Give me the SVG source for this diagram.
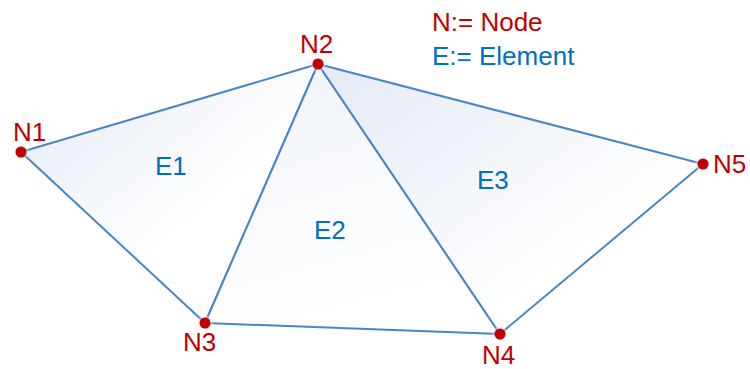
<svg xmlns="http://www.w3.org/2000/svg" width="750" height="369" viewBox="0 0 750 369">
<defs>
<linearGradient id="g1" x1="0" y1="0" x2="1" y2="1">
<stop offset="0" stop-color="#e3eaf5"/><stop offset="0.6" stop-color="#ffffff"/>
</linearGradient>
<linearGradient id="g2" x1="0" y1="0" x2="0.3" y2="1">
<stop offset="0" stop-color="#f0f4f9"/><stop offset="1" stop-color="#ffffff"/>
</linearGradient>
<linearGradient id="g3" x1="0" y1="0" x2="1" y2="1">
<stop offset="0" stop-color="#e3eaf5"/><stop offset="0.7" stop-color="#ffffff"/>
</linearGradient>
<radialGradient id="glow"><stop offset="0.5" stop-color="#bcd0ea" stop-opacity="0.7"/><stop offset="1" stop-color="#ffffff" stop-opacity="0"/></radialGradient>
</defs>
<style>
.edge{stroke:#4a86c5;stroke-width:2;stroke-linejoin:round}
.dot{fill:#c00000}
.nl{font-family:"Liberation Sans",Arial,sans-serif;font-size:26px;fill:#c00000}
.el{font-family:"Liberation Sans",Arial,sans-serif;font-size:26px;fill:#0070c0}
</style>
<g id="elements">
<g id="E1"><polygon class="edge" fill="url(#g1)" points="21,152 318,64 205,323"/><text class="el" x="155" y="175">E1</text></g>
<g id="E2"><polygon class="edge" fill="url(#g2)" points="318,64 205,323 500,334"/><text class="el" x="314" y="239">E2</text></g>
<g id="E3"><polygon class="edge" fill="url(#g3)" points="318,64 500,334 703,164"/><text class="el" x="477" y="189">E3</text></g>
</g>
<g id="connectors"/>
<g id="N1"><circle cx="21" cy="152" r="9" fill="url(#glow)"/><circle class="dot" cx="21" cy="152" r="5.5"/><text class="nl" x="13" y="141">N1</text></g>
<g id="N2"><circle cx="318" cy="64" r="9" fill="url(#glow)"/><circle class="dot" cx="318" cy="64" r="5.5"/><text class="nl" x="300" y="53">N2</text></g>
<g id="N3"><circle cx="205" cy="323" r="9" fill="url(#glow)"/><circle class="dot" cx="205" cy="323" r="5.5"/><text class="nl" x="183" y="351">N3</text></g>
<g id="N4"><circle cx="500" cy="334" r="9" fill="url(#glow)"/><circle class="dot" cx="500" cy="334" r="5.5"/><text class="nl" x="482" y="364">N4</text></g>
<g id="N5"><circle cx="703" cy="164" r="9" fill="url(#glow)"/><circle class="dot" cx="703" cy="164" r="5.5"/><text class="nl" x="713" y="173">N5</text></g>
<g id="legend">
<text class="nl" x="432" y="31">N:= Node</text>
<text class="el" x="432" y="65">E:= Element</text>
</g>
</svg>
